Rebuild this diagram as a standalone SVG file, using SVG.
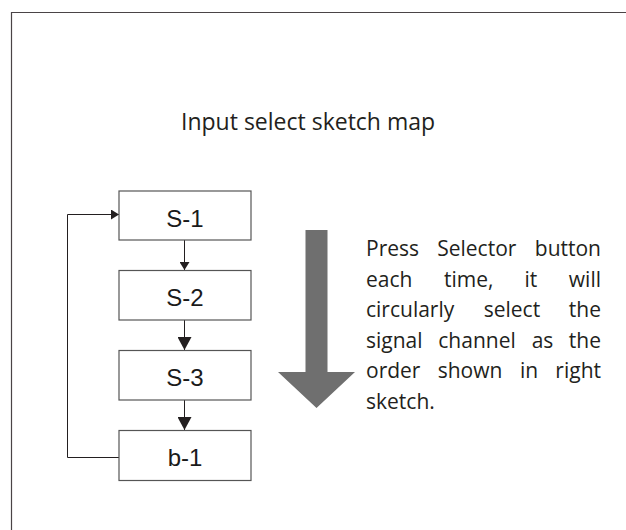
<svg xmlns="http://www.w3.org/2000/svg" width="626" height="530" viewBox="0 0 626 530">
<defs>
<style>
.box{fill:#fff;stroke:#555;stroke-width:1.2}
.lbl{font-family:"Liberation Sans",Arial,sans-serif;font-size:24px;fill:#1a1a1a;text-anchor:middle}
.txt{font-family:"Open Sans","Noto Sans",sans-serif;font-size:21px;fill:#231f20}
.end{text-anchor:end}
.ln{fill:none;stroke:#231f20;stroke-width:1}
</style>
<marker id="ahs" viewBox="0 0 8 10" refX="8" refY="5" markerWidth="8" markerHeight="10" markerUnits="userSpaceOnUse" orient="auto"><path d="M0,0 L8,5 L0,10 z" fill="#231f20"/></marker>
<marker id="ahb" viewBox="0 0 13 14" refX="13" refY="7" markerWidth="13" markerHeight="14" markerUnits="userSpaceOnUse" orient="auto"><path d="M0,0 L13,7 L0,14 z" fill="#231f20"/></marker>
</defs>
<rect width="626" height="530" fill="#fff"/>
<path d="M11.5,530 V12.5 H626" fill="none" stroke="#4a4446" stroke-width="1.2"/>
<text class="txt" x="181" y="130" style="font-size:23px">Input select sketch map</text>
<g id="connectors">
<line class="ln" x1="184.5" y1="240" x2="184.5" y2="270" marker-end="url(#ahs)"/>
<line class="ln" x1="184.5" y1="320" x2="184.5" y2="350" marker-end="url(#ahb)"/>
<line class="ln" x1="184.5" y1="400" x2="184.5" y2="430" marker-end="url(#ahb)"/>
<polyline class="ln" points="119,457.5 67.5,457.5 67.5,214.5 119,214.5" marker-end="url(#ahs)"/>
</g>
<g id="s1"><rect class="box" x="119" y="191" width="132" height="49"/><text class="lbl" x="185" y="227">S-1</text></g>
<g id="s2"><rect class="box" x="119" y="270.5" width="132" height="49.5"/><text class="lbl" x="185" y="306">S-2</text></g>
<g id="s3"><rect class="box" x="119" y="350.5" width="132" height="49.5"/><text class="lbl" x="185" y="386">S-3</text></g>
<g id="b1"><rect class="box" x="119" y="430.5" width="132" height="50"/><text class="lbl" x="185" y="466">b-1</text></g>
<path id="bigarrow" d="M305.5,230 H327.5 V372 H355 L316.5,408 L278,372 H305.5 Z" fill="#6f6f6f"/>
<g id="desc" class="txt">
<text y="256"><tspan x="366">Press</tspan><tspan x="437.2">Selector</tspan><tspan x="601" class="end">button</tspan></text>
<text y="286.5"><tspan x="366">each</tspan><tspan x="444">time,</tspan><tspan x="524.5">it</tspan><tspan x="601" class="end">will</tspan></text>
<text y="317"><tspan x="366">circularly</tspan><tspan x="483.7">select</tspan><tspan x="601" class="end">the</tspan></text>
<text y="347.5"><tspan x="366">signal</tspan><tspan x="438.3">channel</tspan><tspan x="531.7">as</tspan><tspan x="601" class="end">the</tspan></text>
<text y="378"><tspan x="366">order</tspan><tspan x="437.7">shown</tspan><tspan x="520">in</tspan><tspan x="601" class="end">right</tspan></text>
<text x="366" y="408.5">sketch.</text>
</g>
</svg>
